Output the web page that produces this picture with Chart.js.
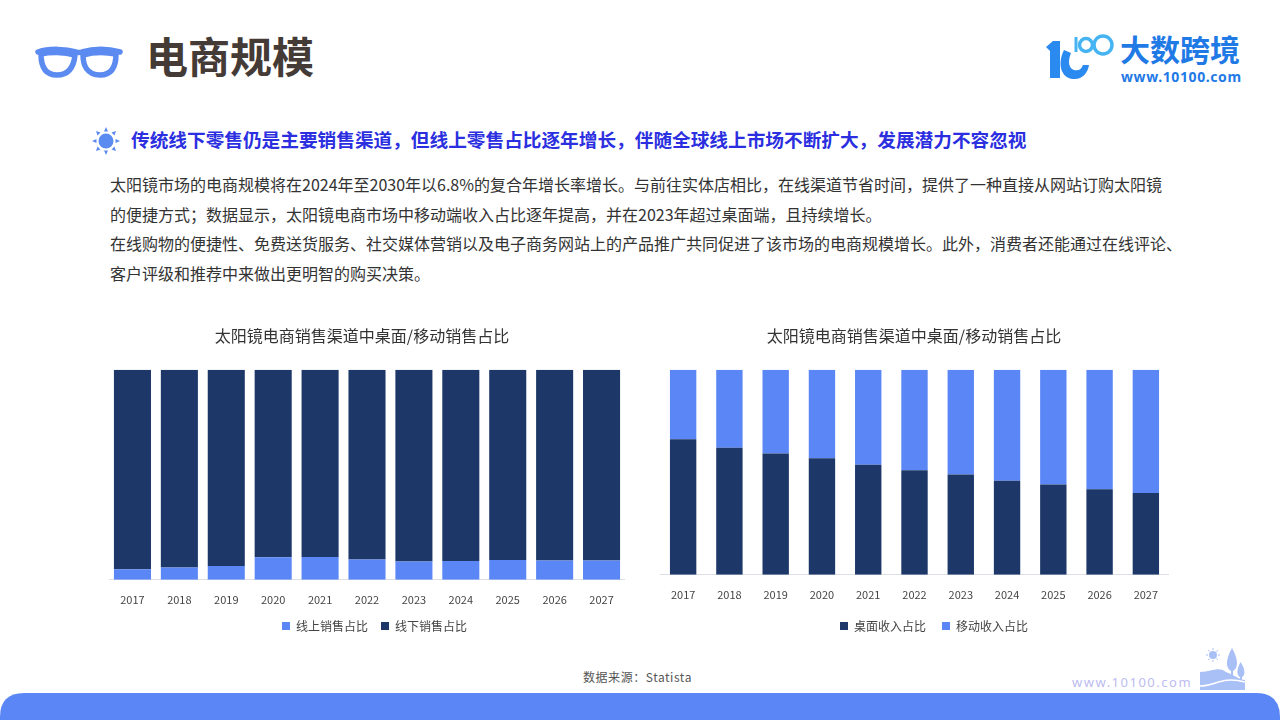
<!DOCTYPE html>
<html lang="zh"><head><meta charset="utf-8">
<script src="https://cdn.jsdelivr.net/npm/chart.js@4"></script>
<style>
html,body{margin:0;padding:0;background:#fff;width:1280px;height:720px;overflow:hidden;font-family:"Noto Sans CJK SC","Noto Sans",sans-serif}
.t{position:absolute;white-space:nowrap;line-height:1}
canvas{position:absolute}
svg{position:absolute;overflow:visible}
</style></head><body>
<svg style="left:0;top:0" width="1280" height="720" viewBox="0 0 1280 720">
  <!-- glasses -->
  <g fill="none" stroke="#5b8af0" stroke-width="5.500">
    <path d="M41 54 C41 66 45 75 57 75 C70 75 74 65 75 55 C64 52 50 52 41 54Z"/>
    <path d="M116 54 C116 66 112 75 100 75 C87 75 83 65 83 55 C93 52 106 52 116 54Z"/>
    <path d="M38 52 C50 48 66 49 76 52 Q79 53 82 52 C92 49 106 48 120 52" stroke-linecap="round"/>
  </g>
  <!-- sun -->
  <g fill="#5b8af0">
    <circle cx="106" cy="141" r="7.500"/>
    <path d="M106 127l2 4.500h-4zM106 155l2-4.500h-4zM92 141l4.500-2v4zM120 141l-4.500-2v4zM96 131l4.500 1.500-3 3zM116 131l-4.500 1.500 3 3zM96 151l4.500-1.500-3-3zM116 151l-4.500-1.500 3-3z"/>
  </g>
  <!-- logo -->
  <path d="M1046 47 L1053 41 H1060 V78 H1050 V51Z" fill="#2b8af0"/>
  <path d="M1064 50 C1057 64 1061 78 1073 79 C1083 80 1088 72 1089 65 L1083 65 C1081 70 1078 71 1074 70 C1068 68 1068 60 1071 53Z" fill="#2b8af0"/>
  <path d="M1076 37 V52" stroke="#46b4f2" stroke-width="3" fill="none"/>
  <g fill="none" stroke="#46b4f2" stroke-width="3.500"><circle cx="1086" cy="45" r="6.500"/><circle cx="1103" cy="45" r="9"/></g>
  <!-- scenery -->
  <g fill="#a9c0f6">
    <circle cx="1213" cy="655" r="4"/>
    <path d="M1213 648v2M1213 660v2M1206 655h2M1218 655h2M1208 650l1.500 1.500M1218 650l-1.500 1.500M1208 660l1.500-1.500M1218 660l-1.500-1.500" stroke="#a9c0f6" stroke-width="1"/>
    <path d="M1232 648 C1226 658 1225 668 1231 671 V682 H1233 V671 C1239 668 1238 658 1232 648Z"/>
    <path d="M1240.500 662 C1236 670 1237 676 1240 677 V684 H1242 V677 C1245 676 1246 670 1240.500 662Z"/>
    <path d="M1200 672 C1212 672 1218 666 1226 672 C1236 676 1240 680 1245 680 V690 H1200Z"/>
  </g>
  <path d="M1200 686 C1215 686 1222 676 1245 682" stroke="#fff" stroke-width="1.500" fill="none"/>
  <!-- footer band -->
  <path d="M0 720 V717 Q0 693 24 693 H1256 Q1280 693 1280 717 V720Z" fill="#5b86f5"/>
</svg>

<div class="t" style="left:146px;top:34px;font-size:42px;font-weight:700;color:#443a36">电商规模</div>
<div class="t" style="left:1120px;top:33px;font-size:30px;font-weight:700;color:#1f7ae6">大数跨境</div>
<div class="t" style="left:1121px;top:70px;font-size:14px;font-weight:700;color:#1f7ae6;font-family:'Noto Sans',sans-serif;letter-spacing:.6px">www.10100.com</div>
<div class="t" style="left:131px;top:130px;font-size:18.670px;font-weight:700;color:#2b2fe0">传统线下零售仍是主要销售渠道，但线上零售占比逐年增长，伴随全球线上市场不断扩大，发展潜力不容忽视</div>
<div class="t" style="left:110px;top:176px;font-size:16px;color:#333">太阳镜市场的电商规模将在2024年至2030年以6.8%的复合年增长率增长。与前往实体店相比，在线渠道节省时间，提供了一种直接从网站订购太阳镜</div>
<div class="t" style="left:110px;top:206px;font-size:16px;color:#333">的便捷方式；数据显示，太阳镜电商市场中移动端收入占比逐年提高，并在2023年超过桌面端，且持续增长。</div>
<div class="t" style="left:110px;top:235px;font-size:16px;color:#333">在线购物的便捷性、免费送货服务、社交媒体营销以及电子商务网站上的产品推广共同促进了该市场的电商规模增长。此外，消费者还能通过在线评论、</div>
<div class="t" style="left:110px;top:265px;font-size:16px;color:#333">客户评级和推荐中来做出更明智的购买决策。</div>
<div class="t" style="left:583px;top:671px;font-size:12px;color:#555;letter-spacing:.55px">数据来源：Statista</div>
<div class="t" style="left:1072px;top:676px;font-size:13px;color:#bcbcf0;letter-spacing:1.500px;font-family:'Noto Sans',sans-serif">www.10100.com</div>

<canvas id="c1" style="left:109px;top:320px;width:516px;height:335px" width="516" height="335"></canvas>
<canvas id="c2" style="left:660px;top:320px;width:509px;height:333px" width="509" height="333"></canvas>

<script>
const years = ['2017','2018','2019','2020','2021','2022','2023','2024','2025','2026','2027'];
const onlineShare = [5.0,5.9,6.6,10.7,10.9,9.7,8.7,8.9,9.4,9.2,9.2];
const offlineShare = [95.0,94.1,93.4,89.3,89.1,90.3,91.3,91.1,90.6,90.8,90.8];
const desktopShare = [66.1,61.9,59.1,56.8,53.7,51.0,48.9,45.8,44.0,41.7,39.9];
const mobileShare = [33.9,38.1,40.9,43.2,46.3,49.0,51.1,54.2,56.0,58.3,60.1];
const chartTitle = '太阳镜电商销售渠道中桌面/移动销售占比';
const LIGHT = '#5b86f5', DARK = '#1c3768';
const FONT = '"Noto Sans CJK SC","Noto Sans",sans-serif';

const shift = {
  id:'shift',
  afterLayout(chart, args, opts){
    const t = chart.titleBlock, l = chart.legend;
    t.left += opts.title; t.right += opts.title;
    l.left += opts.legend; l.right += opts.legend;
    l.top += opts.legendY; l.bottom += opts.legendY;
  }
};

function make(id, datasets, barPct, tickPad, legendPad, titleDx, legendDx, legendDy){
  new Chart(document.getElementById(id), {
    type:'bar',
    plugins:[shift],
    data:{labels:years, datasets},
    options:{
      responsive:false, animation:false,
      layout:{padding:{left:0,right:0,top:0,bottom:0}},
      datasets:{bar:{categoryPercentage:1, barPercentage:barPct}},
      plugins:{
        shift:{title:titleDx, legend:legendDx, legendY:legendDy},
        tooltip:{enabled:false},
        title:{display:true,text:chartTitle,color:'#333',font:{family:FONT,size:16,weight:'normal'},padding:{top:6,bottom:24.500}},
        legend:{position:'bottom',labels:{boxWidth:8,boxHeight:8,color:'#444',font:{family:FONT,size:12},padding:legendPad}}
      },
      scales:{
        x:{stacked:true,grid:{display:false,drawTicks:false},border:{color:'#dcdfe6',width:1},
           afterFit(scale){ scale.paddingLeft = 0; scale.paddingRight = 0; },
           ticks:{color:'#444',font:{family:FONT,size:11},padding:tickPad,maxRotation:0,autoSkip:false}},
        y:{stacked:true,display:false,min:0,max:100}
      }
    }
  });
}
make('c1',[
  {label:'线上销售占比',data:onlineShare,backgroundColor:LIGHT},
  {label:'线下销售占比',data:offlineShare,backgroundColor:DARK}
],0.79,13.500,13,-5,7.500,-13);
make('c2',[
  {label:'桌面收入占比',data:desktopShare,backgroundColor:DARK},
  {label:'移动收入占比',data:mobileShare,backgroundColor:LIGHT}
],0.57,13.500,16,-0.500,19.500,-11);
</script>
</body></html>
